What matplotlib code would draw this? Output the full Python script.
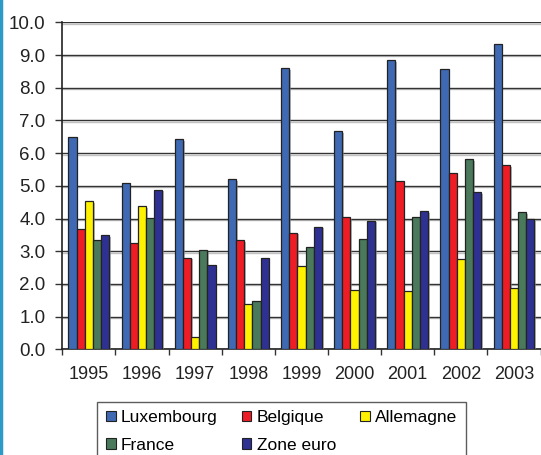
import matplotlib
matplotlib.use("Agg")
import matplotlib.pyplot as plt
import matplotlib.patheffects as pe
from matplotlib.patches import Rectangle
from matplotlib.lines import Line2D
import numpy as np

years = ["1995", "1996", "1997", "1998", "1999", "2000", "2001", "2002", "2003"]
luxembourg = [6.50, 5.10, 6.43, 5.21, 8.59, 6.68, 8.84, 8.58, 9.35]
belgique = [3.69, 3.25, 2.80, 3.33, 3.57, 4.04, 5.14, 5.38, 5.64]
allemagne = [4.54, 4.38, 0.38, 1.39, 2.56, 1.83, 1.80, 2.77, 1.89]
france = [3.34, 4.02, 3.03, 1.49, 3.13, 3.38, 4.06, 5.82, 4.20]
zone_euro = [3.50, 4.88, 2.58, 2.78, 3.75, 3.94, 4.22, 4.80, 3.99]

names = ["Luxembourg", "Belgique", "Allemagne", "France", "Zone euro"]
colors = ["#3F69B3", "#EE1C25", "#FFF200", "#4A7A5B", "#2E3192"]
series = [luxembourg, belgique, allemagne, france, zone_euro]

plt.rcParams["font.family"] = ["Liberation Sans", "DejaVu Sans"]

fig = plt.figure(figsize=(5.41, 4.55), dpi=100)
ax = fig.add_axes([0.1152, 0.2321, 0.884, 0.7189])

x = np.arange(len(years))
w = 1 / 6.5
shadow = [pe.SimplePatchShadow(offset=(1.2, -1.2), shadow_rgbFace="#888888", alpha=0.6), pe.Normal()]
for i, (vals, c) in enumerate(zip(series, colors)):
    bars = ax.bar(x + (i - 2) * w, vals, width=w, color=c, edgecolor="#222222",
                  linewidth=0.9, zorder=3)
    for b in bars:
        b.set_path_effects(shadow)

ax.set_ylim(0, 10)
ax.set_xlim(-0.5, len(years) - 0.5)
ax.set_yticks(np.arange(0, 10.1, 1))
ax.set_yticklabels(["%.1f" % v for v in np.arange(0, 10.1, 1)])
ax.yaxis.grid(True, color="#333333", linewidth=1.0, zorder=0,
              path_effects=[pe.SimpleLineShadow(offset=(0, -1), shadow_color="#999999", alpha=0.6), pe.Normal()])
ax.set_axisbelow(True)

ax.set_xticks(np.arange(-0.5, len(years), 1))
ax.set_xticklabels([])
ax.set_xticks(x, minor=True)
ax.set_xticklabels(years, minor=True)
ax.tick_params(axis="x", which="major", length=4, width=1, color="#333333")
ax.tick_params(axis="x", which="minor", length=0, pad=12, labelsize=13, labelcolor="#222222")
ax.tick_params(axis="y", length=5, width=1, color="#333333", pad=7, labelsize=13.5, labelcolor="#222222")

for s in ["top", "right"]:
    ax.spines[s].set_visible(False)
for s in ["left", "bottom"]:
    ax.spines[s].set_color("#222222")
    ax.spines[s].set_linewidth(1.2)

handles = [Rectangle((0, 0), 1, 1, facecolor=c, edgecolor="#222222", linewidth=0.8) for c in colors]
order = [0, 3, 1, 4, 2]
leg = fig.legend([handles[k] for k in order], [names[k] for k in order], ncol=3,
                 loc="upper left", bbox_to_anchor=(0.1799, 0.1171), fontsize=12.5,
                 frameon=True, fancybox=False, edgecolor="#333333", borderaxespad=0,
                 handlelength=0.55, handleheight=0.55, handletextpad=0.3,
                 columnspacing=1.4, labelspacing=0.7, borderpad=0.5)
leg.get_frame().set_linewidth(1.0)

fig.add_artist(Line2D([0.002, 0.002], [0, 1], transform=fig.transFigure,
                      color="#2E9BC6", linewidth=2.5))

fig.savefig("out.png", dpi=100)
